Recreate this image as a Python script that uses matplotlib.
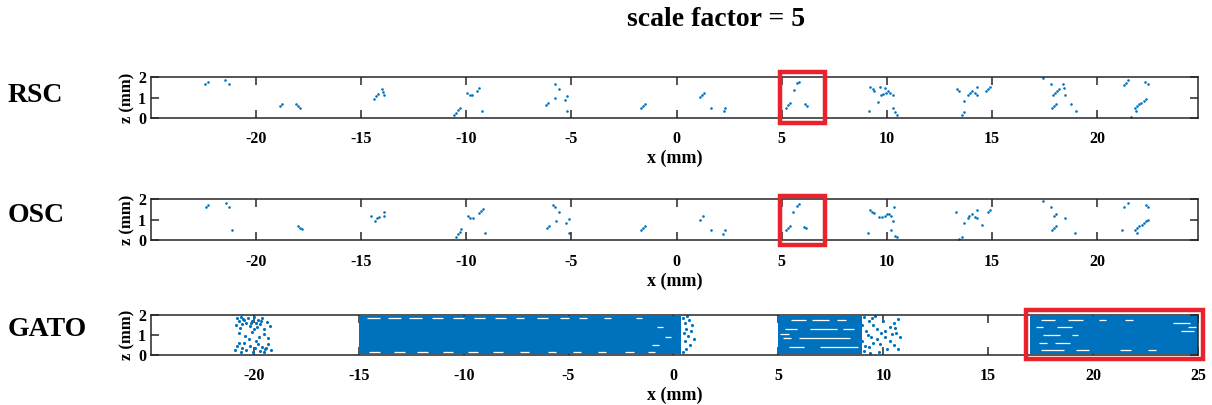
import matplotlib
matplotlib.use('Agg')
import matplotlib.pyplot as plt
from matplotlib.patches import Rectangle

plt.rcParams['axes.unicode_minus'] = False

BLUE = '#0072BD'
RED = '#E8232B'
FONT = ['Liberation Serif', 'DejaVu Serif']

# ---------------- data ----------------
row_labels = ['RSC', 'OSC', 'GATO']
title_text = 'scale factor = 5'
xticks_top = [-20, -15, -10, -5, 0, 5, 10, 15, 20]
xticks_gato = [-20, -15, -10, -5, 0, 5, 10, 15, 20, 25]
zticks = [0, 1, 2]

rsc_x = [-22.45, -22.3, -21.5, -21.3, -18.86, -18.77, -18.1, -18.0, -17.9,
         -14.4, -14.3, -14.2, -14.0, -13.95, -13.9,
         -10.6, -10.5, -10.4, -10.3, -9.98, -9.82, -9.71, -9.5, -9.38, -9.24,
         -5.8, -5.6, -5.8, -6.2, -6.1, -5.2, -5.3, -5.2,
         -1.7, -1.6, -1.52, 1.13, 1.22, 1.32, 1.63, 2.25, 2.32,
         5.73, 5.82, 5.57, 5.2, 5.3, 5.4, 6.1, 6.2,
         9.22, 9.32, 9.41, 9.67, 9.89, 9.7, 9.82, 9.94, 10.06, 10.17, 10.27,
         9.57, 9.16, 10.27, 10.38, 10.48,
         13.35, 13.44, 13.87, 13.97, 14.06, 14.27, 14.18, 14.27, 13.67,
         14.71, 14.81, 14.9, 13.57, 13.67,
         17.44, 17.8, 18.38, 18.19, 17.9, 18.0, 18.1, 18.43, 18.48,
         17.87, 17.97, 18.06, 18.75, 18.99,
         21.29, 21.38, 21.48, 22.3, 22.4, 21.6, 21.86,
         21.81, 21.9, 22.0, 22.11, 22.24, 22.33]
rsc_z = [1.67, 1.75, 1.85, 1.65, 0.59, 0.69, 0.69, 0.6, 0.51,
         0.94, 1.09, 1.17, 1.4, 1.25, 1.14,
         0.13, 0.25, 0.37, 0.51, 1.22, 1.12, 1.14, 1.34, 1.46, 0.32,
         1.67, 1.4, 0.96, 0.61, 0.71, 1.07, 0.88, 0.32,
         0.5, 0.59, 0.68, 1.01, 1.11, 1.21, 0.51, 0.32, 0.5,
         1.7, 1.77, 1.39, 0.51, 0.61, 0.71, 0.69, 0.59,
         1.5, 1.42, 1.34, 1.5, 1.44, 1.12, 1.16, 1.24, 1.31, 1.22, 1.14,
         0.76, 0.32, 0.51, 0.27, 0.17,
         1.42, 1.34, 1.14, 1.24, 1.32, 1.49, 1.21, 1.14, 0.84,
         1.31, 1.41, 1.5, 0.17, 0.27,
         1.95, 1.65, 1.65, 1.41, 1.12, 1.22, 1.32, 1.46, 1.12,
         0.5, 0.59, 0.69, 0.69, 0.32,
         1.63, 1.73, 1.83, 1.75, 1.65, 0.05, 0.32,
         0.5, 0.58, 0.66, 0.74, 0.83, 0.91]

osc_x = [-22.4, -22.3, -21.44, -21.27, -21.17, -18.0, -17.9, -17.8,
         -14.52, -14.35, -14.25, -14.16, -13.92, -13.92,
         -10.5, -10.4, -10.3, -10.24, -9.92, -9.83, -9.67, -9.41, -9.32, -9.22, -9.13,
         -5.87, -5.77, -5.58, -5.76, -6.18, -6.09, -5.14, -5.24, -5.13,
         -1.69, -1.59, -1.5, 1.1, 1.25, 1.62, 2.19, 2.29,
         5.71, 5.8, 5.54, 5.19, 5.28, 5.38, 6.04, 6.14,
         9.2, 9.3, 9.39, 10.32, 9.65, 9.76, 9.89, 10.0, 10.11, 10.21, 10.29,
         9.11, 10.22, 10.4, 10.49,
         13.31, 13.84, 13.93, 14.03, 14.28, 14.17, 14.27, 13.66, 14.52,
         14.79, 14.89, 13.41, 13.58,
         17.42, 17.79, 17.96, 18.04, 18.46, 17.85, 17.95, 18.04, 18.96,
         21.27, 21.46, 22.32, 22.42, 21.19,
         21.8, 21.9, 21.99, 22.12, 22.22, 22.31, 22.4, 21.9]
osc_z = [1.63, 1.71, 1.81, 1.63, 0.53, 0.7, 0.62, 0.54,
         1.2, 0.94, 1.07, 1.15, 1.39, 1.18,
         0.19, 0.29, 0.42, 0.54, 1.2, 1.1, 1.1, 1.34, 1.42, 1.5, 0.35,
         1.73, 1.63, 1.38, 0.96, 0.61, 0.7, 1.06, 0.86, 0.34,
         0.53, 0.62, 0.7, 1.01, 1.18, 0.53, 0.32, 0.51,
         1.68, 1.74, 1.38, 0.51, 0.61, 0.7, 0.67, 0.61,
         1.47, 1.39, 1.31, 1.63, 1.12, 1.12, 1.18, 1.28, 1.28, 1.17, 0.96,
         0.34, 0.51, 0.24, 0.16,
         1.39, 1.09, 1.18, 1.28, 1.47, 1.15, 1.09, 0.86, 0.75,
         1.39, 1.47, 0.08, 0.18,
         1.92, 1.63, 1.2, 1.28, 1.1, 0.5, 0.59, 0.69, 0.34,
         1.63, 1.81, 1.7, 1.62, 0.53,
         0.51, 0.61, 0.69, 0.77, 0.86, 0.94, 1.01, 0.34]

# GATO: sparse cluster near x=-20
gato_sparse_x = [-20.8, -20.7, -20.6, -20.55, -20.45, -20.35, -20.3, -20.2, -20.1, -20.0,
                 -19.9, -19.85, -19.8, -19.7, -19.6, -19.5, -19.35, -19.25, -20.65, -20.0,
                 -20.7, -20.4, -20.1, -19.75, -19.5, -20.25, -19.3,
                 -20.9, -20.8, -20.6, -20.55, -20.45, -20.35, -20.2, -20.05, -19.95,
                 -19.8, -19.7, -19.6, -19.5, -19.4, -19.3, -19.2, -20.7, -19.9,
                 -20.5, -20.15, -19.65, -19.45, -20.85]
gato_sparse_z = [1.85, 1.7, 1.9, 1.55, 1.75, 1.6, 1.85, 1.45, 1.7, 1.9,
                 1.6, 1.4, 1.75, 1.55, 1.85, 1.3, 1.65, 1.45, 1.35, 1.3,
                 1.1, 0.95, 1.15, 0.9, 1.05, 0.8, 0.85,
                 0.25, 0.45, 0.15, 0.35, 0.6, 0.25, 0.45, 0.15, 0.35,
                 0.55, 0.2, 0.4, 0.15, 0.35, 0.55, 0.25, 0.6, 0.7,
                 1.8, 1.6, 1.7, 0.3, 1.5]
# GATO dense regions (x start, x end)
gato_dense_x0 = [-15.0, 5.0, 17.0]
gato_dense_x1 = [0.35, 9.0, 25.0]
# GATO ragged edge points
gato_edge_x = [0.45, 0.55, 0.6, 0.5, 0.7, 0.55, 0.8, 0.6, 0.9, 1.0, 0.45, 0.75, 0.65, 0.85,
               9.1, 9.3, 9.5, 9.7, 9.9, 10.1, 10.3, 10.5, 10.7, 9.1, 9.3, 9.5, 9.7,
               10.1, 10.3, 10.5, 10.7, 9.2, 9.4, 10.0, 10.2, 10.6, 9.6, 9.8, 10.8, 9.0,
               9.0, 9.25, 9.45, 9.85, 10.4, 10.55, 9.15, 9.35]
gato_edge_z = [1.85, 1.6, 1.3, 1.1, 0.95, 0.7, 0.5, 0.3, 1.5, 0.8, 0.15, 1.75, 1.95, 1.2,
               1.9, 1.7, 1.5, 1.3, 1.1, 0.9, 0.7, 0.5, 0.3, 0.2, 0.4, 0.6, 0.8,
               1.2, 1.4, 1.6, 1.8, 1.2, 0.9, 1.7, 0.3, 1.1, 1.95, 0.15, 0.9, 1.5,
               0.7, 1.0, 1.85, 0.55, 1.05, 1.35, 0.45, 0.1]
# GATO white gaps inside dense regions (x start, x end, z)
gap_x0 = [-14.6, -13.6, -12.6, -11.5, -10.5, -9.5, -8.5, -7.5, -6.5, -5.4, -4.5, -3.3, -1.8,
          -14.5, -13.3, -12.2, -11.0, -9.8, -8.6, -7.3, -6.0, -4.8, -3.6, -2.3, -1.2,
          -0.8, -0.4, -1.0,
          5.6, 6.6, 7.8, 5.3, 6.5, 8.1, 5.2, 6.0, 5.5, 7.0, 5.1,
          17.5, 18.8, 20.3, 21.5, 17.3, 18.3, 17.6, 19.0, 17.4, 18.2,
          17.5, 19.2, 21.3, 22.6, 23.8, 24.2, 24.5]
gap_x1 = [-14.0, -13.0, -12.0, -11.0, -10.0, -9.0, -8.0, -7.1, -6.0, -5.0, -4.1, -3.0, -1.5,
          -14.0, -12.8, -11.7, -10.5, -9.3, -8.1, -6.9, -5.6, -4.4, -3.2, -1.9, -0.9,
          -0.5, -0.1, -0.7,
          6.3, 7.4, 8.2, 5.9, 7.8, 8.6, 5.6, 8.4, 6.2, 8.8, 5.5,
          18.2, 19.5, 20.6, 21.9, 17.6, 19.0, 18.4, 19.3, 17.8, 18.9,
          18.6, 19.8, 21.8, 23.0, 24.6, 24.8, 24.9]
gap_z = [1.85, 1.85, 1.85, 1.85, 1.85, 1.85, 1.85, 1.85, 1.85, 1.85, 1.85, 1.85, 1.85,
         0.13, 0.13, 0.13, 0.13, 0.13, 0.13, 0.13, 0.13, 0.13, 0.13, 0.13, 0.13,
         1.4, 0.9, 0.5,
         1.75, 1.75, 1.75, 1.3, 1.3, 1.3, 0.85, 0.85, 0.4, 0.4, 1.05,
         1.75, 1.75, 1.75, 1.75, 1.4, 1.4, 1.0, 1.0, 0.6, 0.6,
         0.25, 0.25, 0.25, 0.25, 1.6, 1.2, 1.4]

# red highlight boxes (x0, x1, z0, z1) per row
box_rsc = (4.9, 7.05, -0.26, 2.26)
box_osc = (4.9, 7.05, -0.22, 2.16)
box_gato = (16.8, 25.25, -0.2, 2.24)

# ---------------- figure ----------------
W, H = 1212, 405
fig = plt.figure(figsize=(W / 100, H / 100), dpi=100)

def fx(px):
    return px / W

def fy(py):
    return 1 - py / H

def make_axes(top, bottom, xlim, xticks):
    ax = fig.add_axes([fx(151), fy(bottom), fx(1198) - fx(151), fy(top) - fy(bottom)])
    ax.set_xlim(*xlim)
    ax.set_ylim(0, 2)
    ax.set_xticks(xticks)
    ax.set_yticks(zticks)
    ax.tick_params(direction='in', top=True, right=True, length=5.5, width=1.1,
                   color='#262626', labelsize=11.5)
    ax.tick_params(axis='x', pad=9.5)
    ax.tick_params(axis='y', pad=3.5)
    for lab in ax.get_xticklabels() + ax.get_yticklabels():
        lab.set_fontfamily(FONT)
        lab.set_fontweight('bold')
    for sp in ax.spines.values():
        sp.set_linewidth(1.1)
        sp.set_color('#262626')
    ax.set_xlabel('x (mm)', fontsize=13, fontweight='bold', family=FONT, labelpad=2)
    ax.set_ylabel('z (mm)', fontsize=12, fontweight='bold', family=FONT, labelpad=2)
    return ax

def add_box(ax, box):
    x0, x1, z0, z1 = box
    ax.add_patch(Rectangle((x0, z0), x1 - x0, z1 - z0, fill=False, edgecolor=RED,
                           linewidth=3.2, clip_on=False, zorder=10))

ax1 = make_axes(77, 118, (-25.0, 24.8), xticks_top)
ax1.scatter(rsc_x, rsc_z, s=3.5, color=BLUE, linewidths=0)
add_box(ax1, box_rsc)

ax2 = make_axes(199, 240.5, (-25.0, 24.8), xticks_top)
ax2.scatter(osc_x, osc_z, s=3.5, color=BLUE, linewidths=0)
add_box(ax2, box_osc)

ax3 = make_axes(315, 355, (-24.9, 25.0), xticks_gato)
ax3.set_axisbelow(True)
for x0, x1 in zip(gato_dense_x0, gato_dense_x1):
    ax3.fill_between([x0, x1], [0.03, 0.03], [1.97, 1.97], color=BLUE, linewidth=0)
for x0, x1, z in zip(gap_x0, gap_x1, gap_z):
    ax3.plot([x0, x1], [z, z], color='white', linewidth=0.9, solid_capstyle='butt')
ax3.scatter(gato_sparse_x, gato_sparse_z, s=5, color=BLUE, linewidths=0)
ax3.scatter(gato_edge_x, gato_edge_z, s=5, color=BLUE, linewidths=0)
add_box(ax3, box_gato)

# row labels and title
for lab, py in zip(row_labels, [95, 215, 330]):
    fig.text(fx(8), fy(py), lab, ha='left', va='center', fontsize=20,
             fontweight='bold', family=FONT)
fig.text(fx(716), fy(19), title_text, ha='center', va='center', fontsize=20,
         fontweight='bold', family=FONT)

fig.savefig('out.png', dpi=100)
